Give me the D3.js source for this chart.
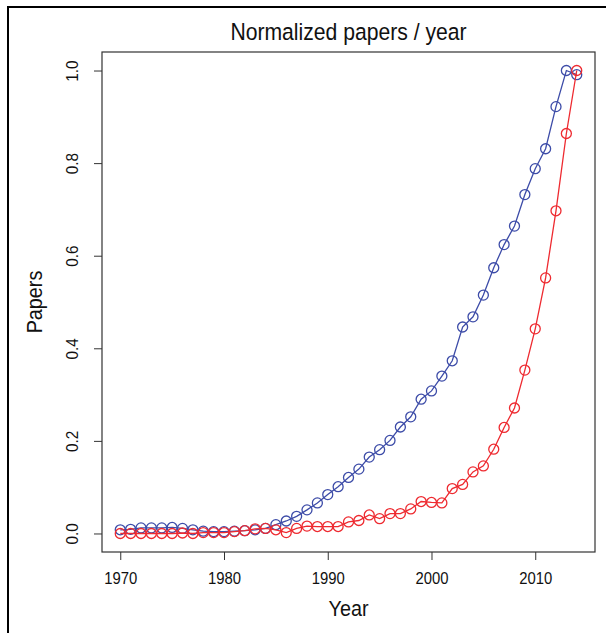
<!DOCTYPE html>
<html>
<head>
<meta charset="utf-8">
<script src="https://cdn.jsdelivr.net/npm/d3@7"></script>
<style>
  body { margin: 0; background: #fff; }
  svg text { font-family: "Liberation Sans", Arial, sans-serif; fill: #111; }
</style>
</head>
<body>
<script>
// years 1970 - 2014
var years = d3.range(1970, 2015);

// blue series (normalized papers / year)
var blueValues = [
  0.008, 0.009, 0.012, 0.012, 0.012, 0.013, 0.011, 0.008, 0.005, 0.004,
  0.004, 0.005, 0.006, 0.008, 0.011, 0.019, 0.027, 0.037, 0.051, 0.066,
  0.084, 0.101, 0.121, 0.139, 0.165, 0.181, 0.201, 0.230, 0.252, 0.290,
  0.308, 0.340, 0.373, 0.446, 0.468, 0.515, 0.574, 0.624, 0.664, 0.732,
  0.788, 0.831, 0.922, 1.000, 0.991
];

// red series
var redValues = [
  0.000, 0.000, 0.000, 0.000, 0.000, 0.000, 0.001, 0.000, 0.002, 0.002,
  0.002, 0.004, 0.006, 0.010, 0.011, 0.008, 0.002, 0.011, 0.016, 0.015,
  0.015, 0.015, 0.025, 0.028, 0.040, 0.032, 0.043, 0.043, 0.053, 0.069,
  0.067, 0.066, 0.097, 0.106, 0.133, 0.146, 0.182, 0.229, 0.271, 0.353,
  0.442, 0.552, 0.697, 0.864, 1.000
];

var xTicks = [1970, 1980, 1990, 2000, 2010];
var yTicks = [0, 0.2, 0.4, 0.6, 0.8, 1.0];

var W = 606, H = 633;
// plot box (R style, 4% padding on both axes)
var box = { left: 102, right: 595, top: 52, bottom: 552 };
// the original font is a bit narrower than Liberation Sans
var narrow = 0.9;

var svg = d3.select("body").append("svg")
  .attr("width", W)
  .attr("height", H);

// outer frame, only top and left visible
svg.append("path")
  .attr("d", "M8," + (H + 5) + " L8,7 L" + (W + 5) + ",7")
  .attr("fill", "none")
  .attr("stroke", "#000")
  .attr("stroke-width", 2);

var x = d3.scaleLinear()
  .domain([1970 - 44 * 0.04, 2014 + 44 * 0.04])
  .range([box.left, box.right]);
var y = d3.scaleLinear()
  .domain([-0.04, 1.04])
  .range([box.bottom, box.top]);

// x axis
var gx = svg.append("g")
  .attr("transform", "translate(0," + box.bottom + ")")
  .call(d3.axisBottom(x).tickValues(xTicks).tickSize(8).tickPadding(12).tickFormat(d3.format("d")));
gx.select(".domain").remove();
gx.selectAll("line").attr("stroke", "#333");
gx.selectAll("text")
  .style("font-size", "16.5px")
  .attr("fill", "#111")
  .attr("transform", "scale(" + narrow + ",1)");

// y axis, labels rotated like R
var gy = svg.append("g")
  .attr("transform", "translate(" + box.left + ",0)")
  .call(d3.axisLeft(y).tickValues(yTicks).tickSize(8).tickFormat(d3.format(".1f")));
gy.select(".domain").remove();
gy.selectAll("line").attr("stroke", "#333");
gy.selectAll("text")
  .style("font-size", "17px")
  .attr("fill", "#111")
  .attr("x", null).attr("dy", null)
  .attr("text-anchor", "middle")
  .attr("transform", "translate(-30,0) rotate(-90) scale(" + narrow + ",1)")
  .attr("dy", "0.35em");

// plot box
svg.append("rect")
  .attr("x", box.left).attr("y", box.top)
  .attr("width", box.right - box.left)
  .attr("height", box.bottom - box.top)
  .attr("fill", "none")
  .attr("stroke", "#333")
  .attr("stroke-width", 1.2);

// titles
svg.append("text")
  .attr("transform", "translate(" + (box.left + box.right) / 2 + ",40) scale(" + narrow + ",1)")
  .attr("text-anchor", "middle")
  .style("font-size", "23.5px")
  .text("Normalized papers / year");
svg.append("text")
  .attr("transform", "translate(" + (box.left + box.right) / 2 + ",616) scale(" + narrow + ",1)")
  .attr("text-anchor", "middle")
  .style("font-size", "22px")
  .text("Year");
svg.append("text")
  .attr("transform", "translate(42," + (box.top + box.bottom) / 2 + ") rotate(-90) scale(" + narrow + ",1)")
  .attr("text-anchor", "middle")
  .style("font-size", "22px")
  .text("Papers");

// series: lines with open circles (type = "o")
var series = [
  { values: blueValues, color: "#3d4ca8" },
  { values: redValues, color: "#ee2a30" }
];

var line = d3.line()
  .x(function(d) { return x(d.year); })
  .y(function(d) { return y(d.v); });

series.forEach(function(s) {
  var pts = years.map(function(yr, i) { return { year: yr, v: s.values[i] }; });
  var g = svg.append("g");
  g.append("path")
    .datum(pts)
    .attr("d", line)
    .attr("fill", "none")
    .attr("stroke", s.color)
    .attr("stroke-width", 1.3);
  g.selectAll("circle")
    .data(pts)
    .enter().append("circle")
    .attr("cx", function(d) { return x(d.year); })
    .attr("cy", function(d) { return y(d.v); })
    .attr("r", 5)
    .attr("fill", "none")
    .attr("stroke", s.color)
    .attr("stroke-width", 1.3);
});
</script>
</body>
</html>
